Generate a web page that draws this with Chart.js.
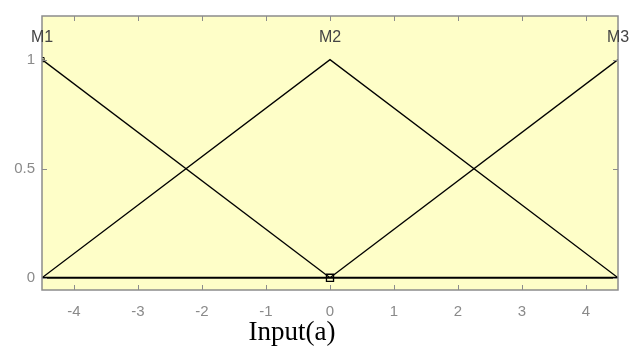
<!DOCTYPE html>
<html>
<head>
<meta charset="utf-8">
<style>
  html, body { margin: 0; padding: 0; background: #fff; }
  #wrap { width: 633px; height: 348px; }
</style>
<script src="https://cdn.jsdelivr.net/npm/chart.js@4/dist/chart.umd.min.js"></script>
</head>
<body>
<div id="wrap"><canvas id="mycanvas" width="633" height="348"></canvas></div>
<script>
// membership functions on the input range
var xTicks = [-4, -3, -2, -1, 0, 1, 2, 3, 4];
var yTicks = [0, 0.5, 1];
var mfNames = ["M1", "M2", "M3"];
var mfPeaks = [-4.5, 0, 4.5];
var m1 = [{x: -4.5, y: 1}, {x: 0, y: 0}];
var m2 = [{x: -4.5, y: 0}, {x: 0, y: 1}, {x: 4.5, y: 0}];
var m3 = [{x: 0, y: 0}, {x: 4.5, y: 1}];
var baseLine = [{x: -4.5, y: 0}, {x: 4.5, y: 0}];
var selected = [{x: 0, y: 0}];

var frameColor = "#8c8c8c";
var sansFamily = "'Liberation Sans', Arial, sans-serif";

var plotDecor = {
    id: "plotDecor",
    beforeDraw: function(chart) {
        var a = chart.chartArea, c = chart.ctx;
        c.save();
        c.fillStyle = "#fefec8";
        c.fillRect(a.left, a.top, a.right - a.left, a.bottom - a.top);
        c.restore();
    },
    afterDraw: function(chart) {
        var a = chart.chartArea, c = chart.ctx;
        var xs = chart.scales.x, ys = chart.scales.y;
        c.save();
        c.strokeStyle = frameColor;
        c.lineWidth = 1.5;
        c.strokeRect(a.left, a.top, a.right - a.left, a.bottom - a.top);
        c.lineWidth = 1;
        c.beginPath();
        xTicks.forEach(function(v) {
            var px = Math.round(xs.getPixelForValue(v)) + 0.5;
            c.moveTo(px, a.top); c.lineTo(px, a.top + 5);
            c.moveTo(px, a.bottom); c.lineTo(px, a.bottom - 5);
        });
        yTicks.forEach(function(v) {
            var py = Math.round(ys.getPixelForValue(v)) + 0.5;
            c.moveTo(a.left, py); c.lineTo(a.left + 5, py);
            c.moveTo(a.right, py); c.lineTo(a.right - 5, py);
        });
        c.stroke();

        // names above each peak
        c.fillStyle = "#444";
        c.font = "16px " + sansFamily;
        c.textAlign = "center";
        c.textBaseline = "middle";
        mfNames.forEach(function(n, i) {
            c.fillText(n, xs.getPixelForValue(mfPeaks[i]), ys.getPixelForValue(1.1));
        });

        c.fillStyle = "#000";
        c.font = "27px 'Liberation Serif', 'Times New Roman', serif";
        c.textBaseline = "alphabetic";
        c.fillText("Input(a)", 292, 340);
        c.restore();
    }
};

function line(data, width) {
    return {
        data: data,
        showLine: true,
        borderColor: "#000",
        borderWidth: width,
        pointRadius: 0,
        fill: false,
        tension: 0
    };
}

var ctx = document.getElementById("mycanvas");
var chart = new Chart(ctx, {
    type: "scatter",
    data: {
        datasets: [
            line(baseLine, 2),
            line(m1, 1.3),
            line(m2, 1.3),
            line(m3, 1.3),
            {
                data: selected,
                showLine: false,
                pointStyle: "rect",
                pointRadius: 5,
                borderColor: "#000",
                borderWidth: 1.3,
                backgroundColor: "#fefec8"
            },
            {
                data: [{x: -4.5, y: 1}],
                showLine: false,
                pointStyle: "rect",
                pointRadius: 3,
                borderColor: "#000",
                borderWidth: 1,
                backgroundColor: "#fefec8"
            }
        ]
    },
    options: {
        responsive: false,
        animation: false,
        events: [],
        layout: { padding: { top: 14, right: 15, left: 0, bottom: 0 } },
        plugins: { legend: { display: false }, tooltip: { enabled: false } },
        scales: {
            x: {
                type: "linear",
                min: -4.5,
                max: 4.5,
                afterBuildTicks: function(s) { s.ticks = xTicks.map(function(v) { return {value: v}; }); },
                afterFit: function(s) { s.height = 58; },
                grid: { display: false, drawTicks: false },
                border: { display: false },
                ticks: {
                    padding: 13,
                    color: "#8a8a8a",
                    font: { family: sansFamily, size: 15 },
                    maxRotation: 0,
                    autoSkip: false
                }
            },
            y: {
                type: "linear",
                min: -0.056,
                max: 1.2,
                afterBuildTicks: function(s) { s.ticks = yTicks.map(function(v) { return {value: v}; }); },
                afterFit: function(s) { s.width = 42; },
                grid: { display: false, drawTicks: false },
                border: { display: false },
                ticks: {
                    padding: 7,
                    color: "#8a8a8a",
                    font: { family: sansFamily, size: 15 },
                    callback: function(v) { return String(v); }
                }
            }
        }
    },
    plugins: [plotDecor]
});
</script>
</body>
</html>
